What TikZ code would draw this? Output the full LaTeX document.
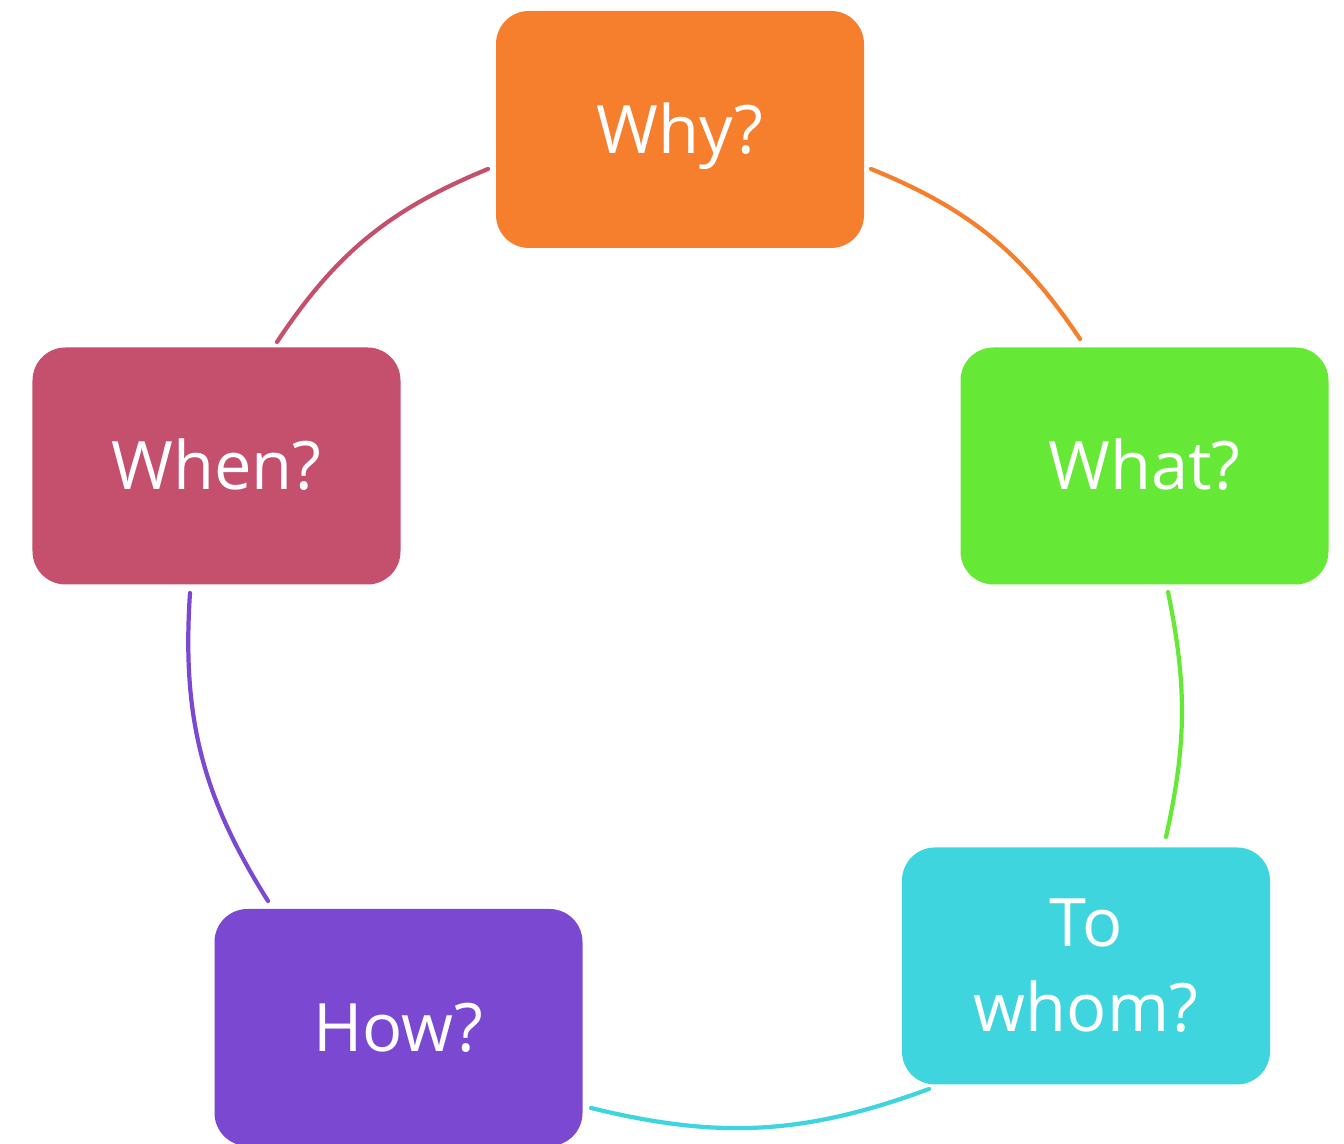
\documentclass[tikz,border=0pt]{standalone}
\usepackage{fontspec}
\setmainfont{Open Sans}
\definecolor{cwhy}{HTML}{F57F2D}
\definecolor{cwhat}{HTML}{66E836}
\definecolor{cwhom}{HTML}{3ED5DE}
\definecolor{chow}{HTML}{7B48D1}
\definecolor{cwhen}{HTML}{C4506E}
\tikzset{
  qbox/.style={rectangle, rounded corners=0.33cm, fill=#1, draw=none,
    minimum width=3.68cm, minimum height=2.37cm, inner sep=0pt,
    text=white, font=\fontsize{19}{24.2}\selectfont},
  capc/.style={text height=0.478cm, text depth=0pt},
  ring/.style={draw=#1, line width=1.2pt, line cap=round}
}
\begin{document}
\begin{tikzpicture}
\useasboundingbox (0,0) rectangle (13.44,11.44);
\node[qbox=cwhy, capc] (why) at (6.80,10.145) {Why?};
\node[qbox=cwhat, capc] (what) at (11.445,6.78) {What?};
\node[qbox=cwhom, align=center] (whom) at (10.86,1.78) {To\\whom?};
\node[qbox=chow, capc] (how) at (3.985,1.165) {How?};
\node[qbox=cwhen, capc] (when) at (2.165,6.78) {When?};

\coordinate (a1) at (8.71,9.75);  \coordinate (a2) at (10.80,8.05);
\coordinate (b1) at (11.68,5.52); \coordinate (b2) at (11.66,3.07);
\coordinate (c1) at (9.29,0.55);  \coordinate (c2) at (5.91,0.36);
\coordinate (d1) at (2.68,2.43);  \coordinate (d2) at (1.90,5.51);
\coordinate (e1) at (2.77,8.02);  \coordinate (e2) at (4.88,9.75);

\draw[ring=cwhy]  (a1) to[bend left=17] (a2);
\draw[ring=cwhat] (b1) to[bend left=12] (b2);
\draw[ring=cwhom] (c1) to[bend left=17] (c2);
\draw[ring=chow]  (d1) to[bend left=18] (d2);
\draw[ring=cwhen] (e1) to[bend left=17] (e2);
\end{tikzpicture}
\end{document}
